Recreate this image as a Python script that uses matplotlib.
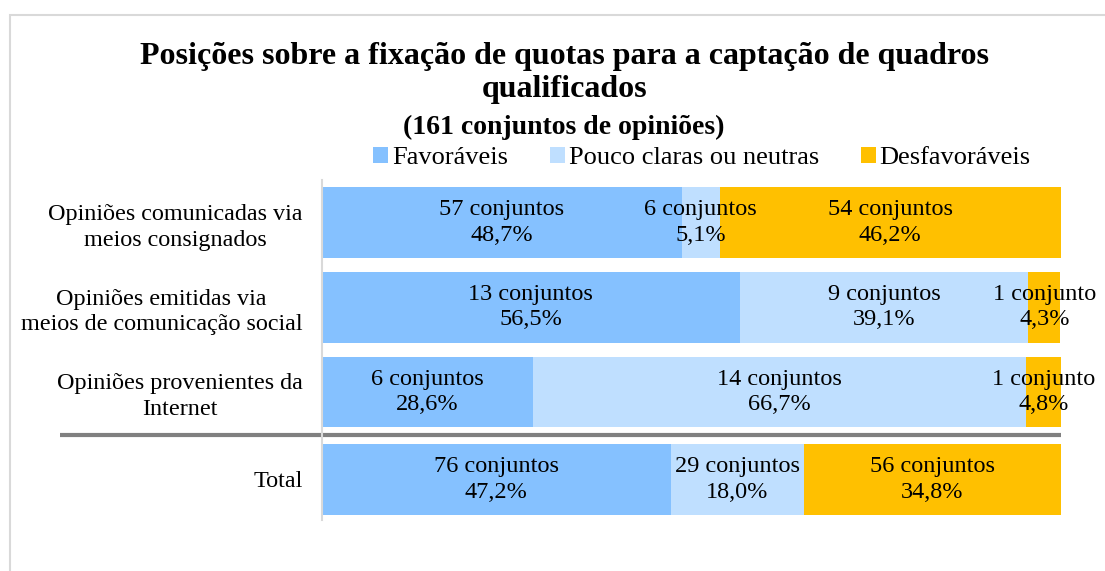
import matplotlib
matplotlib.use("Agg")
import matplotlib.pyplot as plt
from matplotlib.patches import Rectangle
from matplotlib.lines import Line2D

plt.rcParams['font.family'] = ['Liberation Serif', 'DejaVu Serif']

# Dados
categorias = [
    "Opiniões comunicadas via\nmeios consignados",
    "Opiniões emitidas via\nmeios de comunicação social",
    "Opiniões provenientes da\nInternet",
    "Total",
]
series = ["Favoráveis", "Pouco claras ou neutras", "Desfavoráveis"]
favoraveis_n = [57, 13, 6, 76]
neutras_n = [6, 9, 14, 29]
desfavoraveis_n = [54, 1, 1, 56]
favoraveis_pct = [48.7, 56.5, 28.6, 47.2]
neutras_pct = [5.1, 39.1, 66.7, 18.0]
desfavoraveis_pct = [46.2, 4.3, 4.8, 34.8]

cores = ["#85C1FF", "#BFDFFF", "#FFC000"]

W, H = 1105, 571
fig = plt.figure(figsize=(W / 100, H / 100), dpi=100)

# moldura do gráfico
fig.patches.append(Rectangle((10 / W, -0.1), 1.2, 1.1 - 15 / H, transform=fig.transFigure,
                             fill=False, edgecolor="#D9D9D9", linewidth=1.5))

ax = fig.add_axes([322 / W, 1 - 520 / H, (1061 - 322) / W, (520 - 180) / H])

ypos = [0, 1, 2, 3.03]
altura = 0.835

contagens = [favoraveis_n, neutras_n, desfavoraveis_n]
pcts = [favoraveis_pct, neutras_pct, desfavoraveis_pct]

esquerda = [0.0] * len(categorias)
for s, nome in enumerate(series):
    ax.barh(ypos, pcts[s], left=esquerda, height=altura, color=cores[s], label=nome)
    for i in range(len(categorias)):
        n = contagens[s][i]
        txt = f"{n} conjunto" + ("s" if n != 1 else "") + "\n" + f"{pcts[s][i]:.1f}%".replace(".", ",")
        ax.text(esquerda[i] + pcts[s][i] / 2, ypos[i], txt, ha="center", va="center",
                fontsize=17.5, linespacing=1.28, color="black")
        esquerda[i] += pcts[s][i]

ax.set_xlim(0, 100)
ax.set_ylim(3.51, -0.5)
ax.set_xticks([])
ax.set_yticks(ypos)
ax.set_yticklabels(categorias, fontsize=17.4, ha="right", multialignment="center", linespacing=1.3)
ax.tick_params(axis="y", length=0, pad=14)
for lado in ["top", "right", "bottom"]:
    ax.spines[lado].set_visible(False)
ax.spines["left"].set_color("#D9D9D9")
ax.spines["left"].set_linewidth(1.5)

# linha separadora antes do Total
ax.add_line(Line2D([-35.5, 100], [2.506, 2.506], color="#808080", linewidth=3,
                   solid_capstyle="butt", clip_on=False))

fig.text(0.511, 1 - 73 / H, "Posições sobre a fixação de quotas para a captação de quadros\nqualificados",
         ha="center", va="center", fontsize=23, fontweight="bold", linespacing=1.22)
fig.text(0.510, 1 - 127 / H, "(161 conjuntos de opiniões)", ha="center", va="center",
         fontsize=20, fontweight="bold")

fig.legend(loc="center", bbox_to_anchor=(702 / W, 1 - 158 / H), ncol=3, frameon=False,
           fontsize=19, handlelength=0.55, handleheight=0.55, handletextpad=0.15, columnspacing=1.6)

fig.savefig("out.png", dpi=100)
